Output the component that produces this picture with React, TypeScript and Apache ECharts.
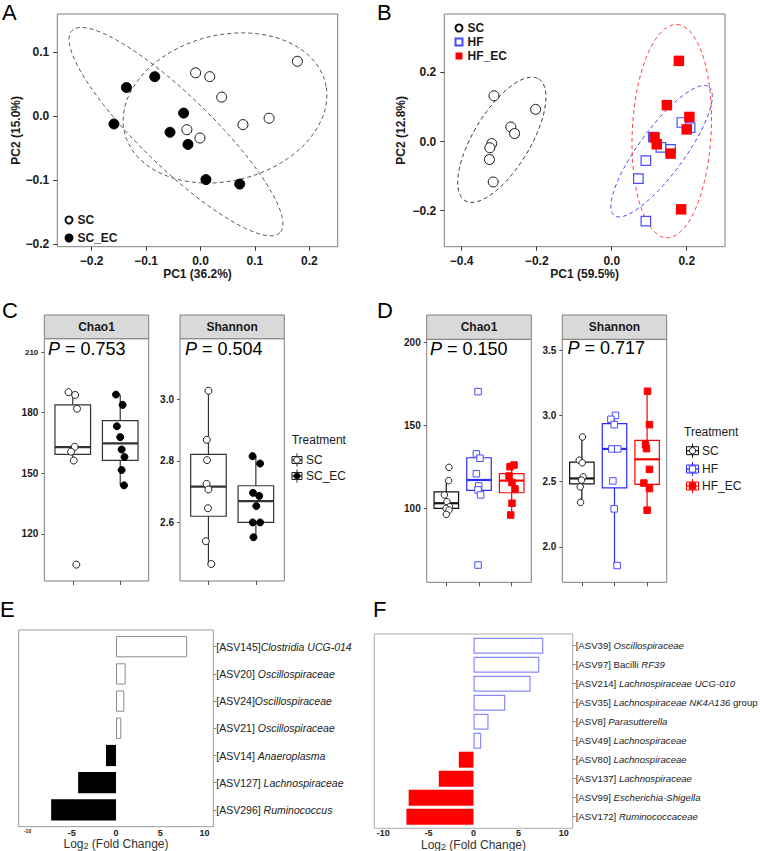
import React, { useEffect, useRef } from 'react';
import * as echarts from 'echarts';

const FONT = '"Liberation Sans", Arial, Helvetica, sans-serif';

// ---------- Panel A (PCoA, SC vs SC_EC) ----------
const A_SC = [[-0.009, 0.068], [0.017, 0.062], [0.039, 0.030], [-0.025, -0.021], [-0.001, -0.034], [0.078, -0.013], [0.126, -0.003], [0.178, 0.086]];
const A_SCEC = [[-0.159, -0.012], [-0.136, 0.045], [-0.084, 0.062], [-0.031, 0.005], [-0.056, -0.025], [-0.023, -0.044], [0.010, -0.099], [0.072, -0.106]];
// ellipse: [cx, cy, ux, uy, vx, vy]
const A_ELL_SC = [0.045, 0.013, 0.186, 0.032, 0.02, -0.113];
const A_ELL_SCEC = [-0.045, -0.024, 0.191, -0.158, -0.046, -0.040];
const A_XTICKS = [-0.2, -0.1, 0, 0.1, 0.2];
const A_YTICKS = [-0.2, -0.1, 0, 0.1];

// ---------- Panel B (PCoA, SC / HF / HF_EC) ----------
const B_SC = [[-0.314, 0.132], [-0.203, 0.093], [-0.269, 0.042], [-0.259, 0.023], [-0.320, -0.006], [-0.325, -0.018], [-0.326, -0.052], [-0.316, -0.117]];
const B_HF = [[0.187, 0.055], [0.209, 0.040], [0.111, 0.013], [0.131, -0.017], [0.157, -0.023], [0.091, -0.055], [0.071, -0.107], [0.091, -0.230]];
const B_HFEC = [[0.179, 0.233], [0.147, 0.105], [0.207, 0.071], [0.200, 0.035], [0.114, 0.012], [0.120, -0.008], [0.157, -0.035], [0.185, -0.196]];
const B_ELL_SC = [-0.293, 0.005, 0.098, 0.176, 0.065, -0.042];
const B_ELL_HF = [0.133, -0.028, 0.126, 0.186, 0.049, -0.039];
const B_ELL_HFEC = [0.160, 0.030, 0.014, 0.308, 0.105, -0.006];
const B_XTICKS = [-0.4, -0.2, 0, 0.2];
const B_YTICKS = [-0.2, 0, 0.2];

// ---------- Panel C (alpha diversity, SC vs SC_EC) ----------
// box stats: [lower whisker, Q1, median, Q3, upper whisker]
const C_CHAO_BOX = [[156.3, 159.4, 163.0, 183.9, 190.2], [144.0, 156.4, 164.8, 176.1, 189.0]];
const C_SHAN_BOX = [[2.465, 2.620, 2.716, 2.821, 3.026], [2.552, 2.600, 2.669, 2.719, 2.815]];
const C_CHAO_SC = [190.2, 188.8, 182.0, 163.1, 160.7, 156.3, 104.7];
const C_CHAO_SC_JIT = [-0.09, 0.05, 0.09, 0.04, -0.035, 0.02, 0.075];
const C_CHAO_SCEC = [189.0, 183.9, 173.3, 167.9, 161.8, 158.1, 151.6, 144.0];
const C_CHAO_SCEC_JIT = [-0.09, 0.05, -0.07, 0, 0.03, 0.09, 0.03, 0.08];
const C_SHAN_SC = [3.027, 2.868, 2.802, 2.725, 2.707, 2.646, 2.539, 2.465];
const C_SHAN_SC_JIT = [0, -0.035, -0.03, -0.04, 0, -0.01, -0.055, 0.06];
const C_SHAN_SCEC = [2.815, 2.791, 2.696, 2.686, 2.653, 2.600, 2.600, 2.552];
const C_SHAN_SCEC_JIT = [-0.07, 0.09, -0.06, 0.07, 0.01, -0.065, 0.09, -0.05];
const C_CHAO_TICKS = [120, 150, 180, 210];
const C_SHAN_TICKS = [2.6, 2.8, 3.0];
const C_P = ['0.753', '0.504'];

// ---------- Panel D (alpha diversity, SC / HF / HF_EC) ----------
const D_CHAO_BOX = [[96.6, 100.2, 103.3, 110.2, 116.9], [108.3, 111.1, 117.3, 130.7, 133.0], [96.2, 109.6, 116.9, 121.1, 126.3]];
const D_SHAN_BOX = [[2.338, 2.479, 2.521, 2.645, 2.837], [1.857, 2.449, 2.746, 2.939, 3.010], [2.279, 2.475, 2.667, 2.812, 3.186]];
const D_CHAO_SC = [124.9, 116.9, 108.3, 104.2, 101.2, 100.2, 99.2, 96.6];
const D_CHAO_SC_JIT = [0.08, 0.07, -0.06, 0.02, 0.1, -0.01, 0.08, 0];
const D_CHAO_HF = [170.5, 133.0, 130.4, 121.1, 113.7, 111.3, 108.3, 66.1];
const D_CHAO_HF_JIT = [-0.03, -0.08, 0.03, -0.08, -0.01, -0.03, 0.05, -0.03];
const D_CHAO_HFEC = [126.3, 125.3, 119.7, 115.7, 111.9, 103.3, 96.2];
const D_CHAO_HFEC_JIT = [0.07, -0.05, -0.08, 0.01, 0.1, 0.01, -0.03];
const D_SHAN_SC = [2.837, 2.660, 2.640, 2.533, 2.508, 2.457, 2.338];
const D_SHAN_SC_JIT = [0.02, -0.08, 0.01, 0.04, -0.01, -0.05, -0.04];
const D_SHAN_HF = [3.002, 2.972, 2.931, 2.746, 2.746, 2.502, 2.289, 1.857];
const D_SHAN_HF_JIT = [0.03, -0.11, -0.01, -0.08, 0.1, -0.05, -0.01, 0.08];
const D_SHAN_HFEC = [3.186, 2.931, 2.778, 2.748, 2.590, 2.486, 2.444, 2.279];
const D_SHAN_HFEC_JIT = [0.01, 0.07, -0.05, -0.02, 0.07, -0.1, 0.07, 0];
const D_CHAO_TICKS = [100, 150, 200];
const D_SHAN_TICKS = [2.0, 2.5, 3.0, 3.5];
const D_P = ['0.150', '0.717'];

// ---------- Panel E (fold change) ----------
const E_CATEGORIES = ['[ASV145]Clostridia UCG-014', '[ASV20] Oscillospiraceae', '[ASV24]Oscillospiraceae', '[ASV21] Oscillospiraceae', '[ASV14] Anaeroplasma', '[ASV127] Lachnospiraceae', '[ASV296] Ruminococcus'];
const E_PRE = ['[ASV145]', '[ASV20] ', '[ASV24]', '[ASV21] ', '[ASV14] ', '[ASV127] ', '[ASV296] '];
const E_ITA = ['Clostridia UCG-014', 'Oscillospiraceae', 'Oscillospiraceae', 'Oscillospiraceae', 'Anaeroplasma', 'Lachnospiraceae', 'Ruminococcus'];
const E_POST = ['', '', '', '', '', '', ''];
const E_VALUES = [8.04, 1.09, 0.94, 0.60, -1.13, -4.28, -7.33];

// ---------- Panel F (fold change) ----------
const F_CATEGORIES = ['[ASV39] Oscillospiraceae', '[ASV97] Bacilli RF39', '[ASV214] Lachnospiraceae UCG-010', '[ASV35] Lachnospiraceae NK4A136 group', '[ASV8] Parasutterella', '[ASV49] Lachnospiraceae', '[ASV80] Lachnospiraceae', '[ASV137] Lachnospiraceae', '[ASV99] Escherichia-Shigella', '[ASV172] Ruminococcaceae'];
const F_PRE = ['[ASV39] ', '[ASV97] Bacilli ', '[ASV214] ', '[ASV35] ', '[ASV8] ', '[ASV49] ', '[ASV80] ', '[ASV137] ', '[ASV99] ', '[ASV172] '];
const F_ITA = ['Oscillospiraceae', 'RF39', 'Lachnospiraceae UCG-010', 'Lachnospiraceae NK4A136', 'Parasutterella', 'Lachnospiraceae', 'Lachnospiraceae', 'Lachnospiraceae', 'Escherichia-Shigella', 'Ruminococcaceae'];
const F_POST = ['', '', '', ' group', '', '', '', '', '', ''];
const F_VALUES = [7.74, 7.30, 6.33, 3.52, 1.67, 0.85, -1.63, -3.85, -7.19, -7.44];
const FC_TICKS = [-10, -5, 0, 5, 10];

// ---------- helpers ----------
function ellipsePts(p: number[], n = 160) {
  const [cx, cy, ux, uy, vx, vy] = p;
  const out: number[][] = [];
  for (let i = 0; i <= n; i++) {
    const t = (2 * Math.PI * i) / n;
    out.push([cx + ux * Math.cos(t) + vx * Math.sin(t), cy + uy * Math.cos(t) + vy * Math.sin(t)]);
  }
  return out;
}

const fmtMinus = (v: number, d: number) => (v < -1e-9 ? '\u2212' : '') + Math.abs(v).toFixed(d);

function ellipseSeries(idx: number, p: number[], color: string) {
  return {
    type: 'line', xAxisIndex: idx, yAxisIndex: idx, data: ellipsePts(p), symbol: 'none', showSymbol: false,
    silent: true, z: 1, lineStyle: { color, width: 1, type: [4, 3] },
  };
}

function boxSeries(idx: number, stats: number[][], colors: string[], width = 0.75) {
  return {
    type: 'custom', xAxisIndex: idx, yAxisIndex: idx, z: 2, silent: true,
    dimensions: ['x', 'min', 'q1', 'med', 'q3', 'max'],
    encode: { x: 'x', y: ['min', 'q1', 'med', 'q3', 'max'] },
    data: stats.map((s, i) => [i + 1, ...s]),
    renderItem: (params: any, api: any) => {
      const x = api.value(0);
      const mn = api.value(1), q1 = api.value(2), md = api.value(3), q3 = api.value(4), mx = api.value(5);
      const c = colors[params.dataIndex];
      const tl = api.coord([x - width / 2, q3]);
      const br = api.coord([x + width / 2, q1]);
      const pTop = api.coord([x, mx]);
      const pQ3 = api.coord([x, q3]);
      const pQ1 = api.coord([x, q1]);
      const pBot = api.coord([x, mn]);
      const mL = api.coord([x - width / 2, md]);
      const mR = api.coord([x + width / 2, md]);
      return {
        type: 'group', children: [
          { type: 'line', shape: { x1: pTop[0], y1: pTop[1], x2: pQ3[0], y2: pQ3[1] }, style: { stroke: c, lineWidth: 1.2 } },
          { type: 'line', shape: { x1: pQ1[0], y1: pQ1[1], x2: pBot[0], y2: pBot[1] }, style: { stroke: c, lineWidth: 1.2 } },
          { type: 'rect', shape: { x: tl[0], y: tl[1], width: br[0] - tl[0], height: br[1] - tl[1] }, style: { fill: '#ffffff', stroke: c, lineWidth: 1.2 } },
          { type: 'line', shape: { x1: mL[0], y1: mL[1], x2: mR[0], y2: mR[1] }, style: { stroke: c, lineWidth: 2.2 } },
        ],
      };
    },
  };
}

function pointSeries(idx: number, name: string, cat: number, ys: number[], jit: number[], symbol: string, size: number, fill: string, stroke: string) {
  return {
    type: 'scatter', name, xAxisIndex: idx, yAxisIndex: idx, z: 3, silent: true,
    data: ys.map((y, i) => [cat + jit[i], y]),
    symbol, symbolSize: size,
    itemStyle: { color: fill, borderColor: stroke, borderWidth: 1, opacity: 1 },
  };
}

const NO_LINE = { show: false, onZero: false };

function pcAxis(idx: number, min: number, max: number, ticks: number[], name: string, nameGap: number) {
  return {
    gridIndex: idx, type: 'value', min, max, name, nameLocation: 'middle', nameGap,
    nameTextStyle: { fontWeight: 'bold', fontSize: 12, color: '#1a1a1a', fontFamily: FONT },
    splitLine: { show: false }, axisLine: NO_LINE,
    axisTick: { show: true, length: 4, customValues: ticks, lineStyle: { color: '#333', width: 1 } },
    axisLabel: { customValues: ticks, formatter: (v: number) => fmtMinus(v, 1), color: '#1a1a1a', fontWeight: 'bold', fontSize: 12, fontFamily: FONT, margin: 8 },
  };
}

function facetX(idx: number, n: number) {
  const ticks = Array.from({ length: n }, (_, i) => i + 1);
  return {
    gridIndex: idx, type: 'value', min: 0.4, max: n + 0.6,
    splitLine: { show: false }, axisLine: NO_LINE,
    axisTick: { show: true, length: 4, customValues: ticks, lineStyle: { color: '#555', width: 1 } },
    axisLabel: { show: false, customValues: ticks },
  };
}

function facetY(idx: number, min: number, max: number, ticks: number[], digits: number, smallTop = false) {
  return {
    gridIndex: idx, type: 'value', min, max,
    splitLine: { show: false }, axisLine: NO_LINE,
    axisTick: { show: true, length: 3, customValues: ticks, lineStyle: { color: '#555', width: 1 } },
    axisLabel: {
      customValues: ticks, color: '#1a1a1a', fontWeight: 'bold', fontSize: 10, fontFamily: FONT, margin: 6,
      formatter: (v: number) => (smallTop && v === ticks[ticks.length - 1] ? '{s|' + v.toFixed(digits) + '}' : v.toFixed(digits)),
      rich: { s: { fontSize: 8, fontWeight: 'bold', color: '#1a1a1a', fontFamily: FONT } },
    },
  };
}

function fcX(idx: number, nameGap: number, labelMargin: number, tinyMin: boolean) {
  return {
    gridIndex: idx, type: 'value', min: -11, max: 11,
    splitLine: { show: false }, axisLine: NO_LINE, axisTick: { show: false },
    axisLabel: {
      customValues: FC_TICKS, color: '#222', fontWeight: 'bold', fontSize: 9, fontFamily: FONT, margin: labelMargin,
      formatter: (v: number) => (tinyMin && v === -10 ? '{s|-10}' : String(v)),
      rich: { s: { fontSize: 5, fontWeight: 'bold', color: '#222', fontFamily: FONT } },
    },
    name: '{a|Log}{b|2}{a| (Fold Change)}', nameLocation: 'middle', nameGap,
    nameTextStyle: {
      rich: {
        a: { fontSize: 12, color: '#333', fontFamily: FONT, lineHeight: 14 },
        b: { fontSize: 9, color: '#333', fontFamily: FONT, lineHeight: 9, verticalAlign: 'bottom' },
      },
    },
  };
}

function fcY(idx: number, cats: string[], pre: string[], ita: string[], post: string[], fs: number) {
  return {
    gridIndex: idx, type: 'category', data: cats, inverse: true, position: 'right',
    axisLine: NO_LINE,
    axisTick: { show: true, length: 3, alignWithLabel: true, lineStyle: { color: '#888' } },
    axisLabel: {
      margin: 3,
      formatter: (_v: string, i: number) => {
        let s = '';
        if (pre[i]) s += '{n|' + pre[i] + '}';
        if (ita[i]) s += '{i|' + ita[i] + '}';
        if (post[i]) s += '{n|' + post[i] + '}';
        return s;
      },
      rich: {
        n: { fontSize: fs, color: '#222', fontFamily: FONT },
        i: { fontSize: fs, color: '#222', fontFamily: FONT, fontStyle: 'italic' },
      },
    },
  };
}

function fcBars(idx: number, vals: number[], pos: any, neg: any, barWidth: string) {
  return {
    type: 'bar', xAxisIndex: idx, yAxisIndex: idx, barWidth, silent: true,
    data: vals.map((v) => ({ value: v, itemStyle: v > 0 ? pos : neg })),
  };
}

function keyIcon(cx: number, cy: number, color: string, sym: string, fill: string, w: number, h: number) {
  const els: any[] = [
    { type: 'line', shape: { x1: cx, y1: cy - h / 2 - 3, x2: cx, y2: cy + h / 2 + 3 }, style: { stroke: color, lineWidth: 1 } },
    { type: 'rect', shape: { x: cx - w / 2, y: cy - h / 2, width: w, height: h }, style: { fill: '#fff', stroke: color, lineWidth: 1 } },
    { type: 'line', shape: { x1: cx - w / 2, y1: cy, x2: cx + w / 2, y2: cy }, style: { stroke: color, lineWidth: 1.2 } },
  ];
  if (sym === 'circle') els.push({ type: 'circle', shape: { cx, cy, r: 3.2 }, style: { fill, stroke: color, lineWidth: 1 } });
  else els.push({ type: 'rect', shape: { x: cx - 3.2, y: cy - 3.2, width: 6.4, height: 6.4 }, style: { fill, stroke: color, lineWidth: 1 } });
  return els;
}

function txt(x: number, y: number, text: string, size: number, opts: any = {}) {
  return {
    type: 'text', x, y, silent: true,
    style: { text, fontSize: size, fontFamily: FONT, fill: opts.fill || '#1a1a1a', fontWeight: opts.weight || 'normal', align: opts.align || 'left', verticalAlign: opts.va || 'middle' },
  };
}

function pText(x: number, y: number, val: string) {
  return {
    type: 'text', x, y, silent: true,
    style: {
      text: '{i|P}{n| = ' + val + '}', align: 'left', verticalAlign: 'top',
      rich: {
        i: { fontSize: 18, fontStyle: 'italic', fontFamily: FONT, fill: '#000' },
        n: { fontSize: 18, fontFamily: FONT, fill: '#000' },
      },
    },
  };
}

function strip(x: number, y: number, w: number, h: number, label: string) {
  return [
    { type: 'rect', silent: true, shape: { x, y, width: w, height: h }, style: { fill: '#d9d9d9', stroke: '#7f7f7f', lineWidth: 1 } },
    txt(x + w / 2, y + h / 2, label, 12, { weight: 'bold', align: 'center' }),
  ];
}

function buildOption() {
  const frame = { show: true, borderColor: '#7f7f7f', borderWidth: 1, backgroundColor: 'transparent', outerBoundsMode: 'none', containLabel: false };
  const noFrame = { show: false, outerBoundsMode: 'none', containLabel: false };
  const grid = [
    { left: 57.3, top: 14, width: 280.4, height: 232.7, ...frame },
    { left: 444.3, top: 14, width: 280.7, height: 232.7, ...frame },
    { left: 44.3, top: 338.7, width: 104.4, height: 242.3, ...frame },
    { left: 180, top: 338.7, width: 104.3, height: 242.3, ...frame },
    { left: 426.7, top: 339.3, width: 104.6, height: 243, ...frame },
    { left: 562.3, top: 339.3, width: 104.4, height: 243, ...frame },
    { left: 18.7, top: 633.1, width: 194.6, height: 190.4, ...noFrame },
    { left: 374.3, top: 636.2, width: 198.4, height: 190, ...noFrame },
  ];

  const xAxis = [
    pcAxis(0, -0.263, 0.252, A_XTICKS, 'PC1 (36.2%)', 17),
    pcAxis(1, -0.4464, 0.302, B_XTICKS, 'PC1 (59.5%)', 17),
    facetX(2, 2), facetX(3, 2), facetX(4, 3), facetX(5, 3),
    fcX(6, 10, 4.5, true),
    fcX(7, 7, 2.5, false),
  ];
  const yAxis = [
    pcAxis(0, -0.204, 0.16, A_YTICKS, 'PC2 (15.0%)', 35),
    pcAxis(1, -0.304, 0.3685, B_YTICKS, 'PC2 (12.8%)', 37),
    facetY(2, 96.6, 216.7, C_CHAO_TICKS, 0, true),
    facetY(3, 2.41, 3.196, C_SHAN_TICKS, 1),
    facetY(4, 55.7, 202, D_CHAO_TICKS, 0),
    facetY(5, 1.729, 3.582, D_SHAN_TICKS, 1),
    fcY(6, E_CATEGORIES, E_PRE, E_ITA, E_POST, 10.5),
    fcY(7, F_CATEGORIES, F_PRE, F_ITA, F_POST, 9.6),
  ];

  const BLUE = '#2b2bff';
  const BLUE_PT = '#4a4aff';
  const RED = '#ff0000';

  const series: any[] = [
    // A
    ellipseSeries(0, A_ELL_SCEC, '#555'),
    ellipseSeries(0, A_ELL_SC, '#555'),
    { type: 'scatter', name: 'SC', xAxisIndex: 0, yAxisIndex: 0, data: A_SC, symbol: 'circle', symbolSize: 10, z: 3, silent: true, itemStyle: { color: '#fff', borderColor: '#111', borderWidth: 1, opacity: 1 } },
    { type: 'scatter', name: 'SC_EC', xAxisIndex: 0, yAxisIndex: 0, data: A_SCEC, symbol: 'circle', symbolSize: 10, z: 3, silent: true, itemStyle: { color: '#000', borderColor: '#000', borderWidth: 1, opacity: 1 } },
    // B
    ellipseSeries(1, B_ELL_SC, '#333'),
    ellipseSeries(1, B_ELL_HF, '#4444ff'),
    ellipseSeries(1, B_ELL_HFEC, '#ff3c3c'),
    { type: 'scatter', name: 'B_SC', xAxisIndex: 1, yAxisIndex: 1, data: B_SC, symbol: 'circle', symbolSize: 10, z: 3, silent: true, itemStyle: { color: '#fff', borderColor: '#111', borderWidth: 1, opacity: 1 } },
    { type: 'scatter', name: 'HF', xAxisIndex: 1, yAxisIndex: 1, data: B_HF, symbol: 'rect', symbolSize: 9.5, z: 3, silent: true, itemStyle: { color: '#fff', borderColor: BLUE_PT, borderWidth: 1.2, opacity: 1 } },
    { type: 'scatter', name: 'HF_EC', xAxisIndex: 1, yAxisIndex: 1, data: B_HFEC, symbol: 'rect', symbolSize: 10.5, z: 4, silent: true, itemStyle: { color: RED, borderColor: RED, borderWidth: 0, opacity: 1 } },
    // C
    boxSeries(2, C_CHAO_BOX, ['#333', '#333']),
    pointSeries(2, 'c1', 1, C_CHAO_SC, C_CHAO_SC_JIT, 'circle', 7, '#fff', '#222'),
    pointSeries(2, 'c2', 2, C_CHAO_SCEC, C_CHAO_SCEC_JIT, 'circle', 7, '#000', '#000'),
    boxSeries(3, C_SHAN_BOX, ['#333', '#333']),
    pointSeries(3, 'c3', 1, C_SHAN_SC, C_SHAN_SC_JIT, 'circle', 7, '#fff', '#222'),
    pointSeries(3, 'c4', 2, C_SHAN_SCEC, C_SHAN_SCEC_JIT, 'circle', 7, '#000', '#000'),
    // D
    boxSeries(4, D_CHAO_BOX, ['#111', BLUE, RED]),
    pointSeries(4, 'd1', 1, D_CHAO_SC, D_CHAO_SC_JIT, 'circle', 6.5, '#fff', '#222'),
    pointSeries(4, 'd2', 2, D_CHAO_HF, D_CHAO_HF_JIT, 'rect', 6.5, '#fff', BLUE_PT),
    pointSeries(4, 'd3', 3, D_CHAO_HFEC, D_CHAO_HFEC_JIT, 'rect', 6.5, RED, RED),
    boxSeries(5, D_SHAN_BOX, ['#111', BLUE, RED]),
    pointSeries(5, 'd4', 1, D_SHAN_SC, D_SHAN_SC_JIT, 'circle', 6.5, '#fff', '#222'),
    pointSeries(5, 'd5', 2, D_SHAN_HF, D_SHAN_HF_JIT, 'rect', 6.5, '#fff', BLUE_PT),
    pointSeries(5, 'd6', 3, D_SHAN_HFEC, D_SHAN_HFEC_JIT, 'rect', 6.5, RED, RED),
    // E, F
    fcBars(6, E_VALUES, { color: '#fff', borderColor: '#8c8c8c', borderWidth: 1 }, { color: '#000' }, '78%'),
    fcBars(7, F_VALUES, { color: '#fff', borderColor: '#8a8aff', borderWidth: 1.2 }, { color: RED }, '84%'),
  ];

  const legend = [
    {
      orient: 'vertical', left: 59.5, top: 209, itemWidth: 7, itemHeight: 7, itemGap: 6, selectedMode: false,
      data: [{ name: 'SC', icon: 'circle' }, { name: 'SC_EC', icon: 'circle' }],
      textStyle: { fontWeight: 'bold', fontSize: 12, color: '#1a1a1a', fontFamily: FONT },
    },
    {
      orient: 'vertical', left: 449.5, top: 17, itemWidth: 7, itemHeight: 7, itemGap: 2, selectedMode: false,
      data: [{ name: 'SC', icon: 'circle' }, { name: 'HF', icon: 'rect' }, { name: 'HF_EC', icon: 'rect' }],
      textStyle: { fontWeight: 'bold', fontSize: 12, color: '#1a1a1a', fontFamily: FONT },
    },
  ];

  const graphic: any[] = [
    // panel letters
    { type: 'text', left: 2, top: 1, silent: true, style: { text: 'A', fontSize: 22, fontFamily: FONT, fill: '#000' } },
    { type: 'text', left: 377, top: 1, silent: true, style: { text: 'B', fontSize: 22, fontFamily: FONT, fill: '#000' } },
    { type: 'text', left: 2, top: 299, silent: true, style: { text: 'C', fontSize: 22, fontFamily: FONT, fill: '#000' } },
    { type: 'text', left: 377, top: 299, silent: true, style: { text: 'D', fontSize: 22, fontFamily: FONT, fill: '#000' } },
    { type: 'text', left: 0, top: 598, silent: true, style: { text: 'E', fontSize: 22, fontFamily: FONT, fill: '#000' } },
    { type: 'text', left: 373, top: 598, silent: true, style: { text: 'F', fontSize: 22, fontFamily: FONT, fill: '#000' } },
    // strips
    ...strip(44.3, 315, 104.4, 23.7, 'Chao1'),
    ...strip(180, 315, 104.3, 23.7, 'Shannon'),
    ...strip(426.7, 315, 104.6, 24.3, 'Chao1'),
    ...strip(562.3, 315, 104.4, 24.3, 'Shannon'),
    // P values
    pText(48, 340, C_P[0]),
    pText(185, 340, C_P[1]),
    pText(430, 340, D_P[0]),
    pText(567.5, 338.5, D_P[1]),
    // legend C
    txt(291.7, 440, 'Treatment', 12),
    ...keyIcon(297, 460, '#222', 'circle', '#fff', 10, 7),
    ...keyIcon(297, 476, '#222', 'circle', '#000', 10, 7),
    txt(306, 460, 'SC', 12),
    txt(306, 476, 'SC_EC', 12),
    // legend D
    txt(684, 431.7, 'Treatment', 12),
    ...keyIcon(692.5, 450.7, '#111', 'circle', '#fff', 12, 8),
    ...keyIcon(692.5, 469, BLUE, 'rect', '#fff', 12, 8),
    ...keyIcon(692.5, 486, RED, 'rect', RED, 12, 8),
    txt(702, 450.7, 'SC', 12),
    txt(702, 469, 'HF', 12),
    txt(702, 486, 'HF_EC', 12),
    // frames for E / F
    { type: 'rect', silent: true, shape: { x: 18.7, y: 630, width: 194.6, height: 196.7 }, style: { fill: 'none', stroke: '#999', lineWidth: 1 } },
    { type: 'rect', silent: true, shape: { x: 374.3, y: 634, width: 198.4, height: 194.3 }, style: { fill: 'none', stroke: '#aaa', lineWidth: 1 } },
  ];

  return {
    animation: false,
    backgroundColor: '#ffffff',
    textStyle: { fontFamily: FONT },
    grid, xAxis, yAxis, series, legend, graphic,
  };
}

export default function App() {
  const ref = useRef<HTMLDivElement>(null);
  useEffect(() => {
    const chart = echarts.init(ref.current as HTMLDivElement, null, { renderer: 'svg' });
    chart.setOption(buildOption() as any);
    return () => chart.dispose();
  }, []);
  return <div ref={ref} style={{ position: 'absolute', left: 0, top: 0, width: 760, height: 851, background: '#fff' }} />;
}
